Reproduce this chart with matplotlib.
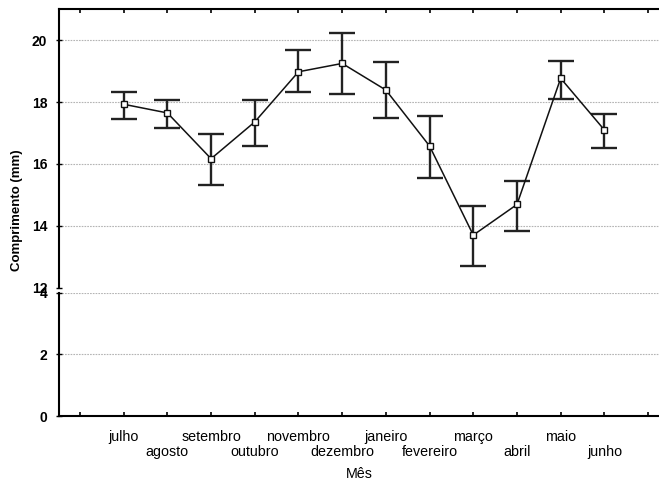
import matplotlib
matplotlib.use("Agg")
import matplotlib.pyplot as plt
import numpy as np

plt.rcParams["font.family"] = ["Liberation Sans", "DejaVu Sans"]

# monthly mean length with error bar limits
months = ["julho", "agosto", "setembro", "outubro", "novembro", "dezembro",
          "janeiro", "fevereiro", "março", "abril", "maio", "junho"]
mean = [17.93, 17.65, 16.17, 17.36, 18.98, 19.25, 18.39, 16.58, 13.70, 14.69, 18.77, 17.10]
upper = [18.32, 18.06, 16.96, 18.06, 19.67, 20.22, 19.29, 17.56, 14.65, 15.46, 19.33, 17.60]
lower = [17.46, 17.17, 15.32, 16.58, 18.32, 18.27, 17.47, 15.56, 12.71, 13.84, 18.11, 16.51]

upper_ticks = [12, 14, 16, 18, 20]
lower_ticks = [0, 2, 4]

x = np.arange(1, len(months) + 1)
m = np.array(mean)
yerr = [m - np.array(lower), np.array(upper) - m]

W, H = 659, 484
fig = plt.figure(figsize=(W / 100, H / 100), dpi=100)

left = 59 / W
width = 1.0 - left
ax_top = fig.add_axes([left, (H - 287.7) / H, width, (287.7 - 9.3) / H])
ax_bot = fig.add_axes([left, (H - 416) / H, width, (416 - 292.7) / H])

grid_kw = dict(color="#b4b4b4", linestyle=(0, (1.5, 1)), linewidth=0.8)

for ax in (ax_top, ax_bot):
    ax.set_xlim(-0.48, 13.25)
    ax.set_xticks(np.arange(0, 14))
    ax.spines["right"].set_visible(False)
    for s in ("left", "top", "bottom"):
        ax.spines[s].set_linewidth(1.5)
    ax.tick_params(axis="y", direction="inout", length=5, width=1,
                   labelsize=10, pad=6)
    ax.yaxis.grid(True, **grid_kw)
    ax.set_axisbelow(True)

ax_top.set_ylim(12, 21)
ax_top.set_yticks(upper_ticks)
ax_top.set_yticklabels([str(t) for t in upper_ticks], fontweight="bold")
ax_top.get_ygridlines()[0].set_visible(False)
ax_top.spines["bottom"].set_visible(False)
ax_top.tick_params(axis="x", top=True, bottom=False, labelbottom=False,
                   direction="in", length=3, width=1.2)

ax_bot.set_ylim(0, 4)
ax_bot.set_yticks(lower_ticks)
ax_bot.set_yticklabels([str(t) for t in lower_ticks], fontweight="bold")
ax_bot.spines["top"].set_visible(False)
ax_bot.tick_params(axis="x", direction="in", length=3, width=1.2, pad=10,
                   labelsize=10.3)
ax_bot.set_xticklabels([""] + months + [""])
# staggered month labels: every second one on a lower row
for i, tick in enumerate(ax_bot.xaxis.get_major_ticks()):
    if i >= 1 and i <= len(months) and i % 2 == 0:
        tick.set_pad(21)
ax_bot.set_xlabel("Mês", fontsize=10.3, labelpad=6)

ax_top.errorbar(x, mean, yerr=yerr, fmt="none", ecolor="#222222",
                elinewidth=1.7, capsize=9.5, capthick=1.7, zorder=3)
ax_top.plot(x, mean, color="#111111", linewidth=1.1, marker="s",
            markersize=4.5, markerfacecolor="white", markeredgecolor="#111111",
            markeredgewidth=1.0, zorder=4, clip_on=False)

fig.text(17 / W, 1 - 210 / H, "Comprimento (mm)", rotation=90,
         ha="center", va="center", fontsize=9.5, fontweight="bold")

fig.savefig("out.png", dpi=100)
